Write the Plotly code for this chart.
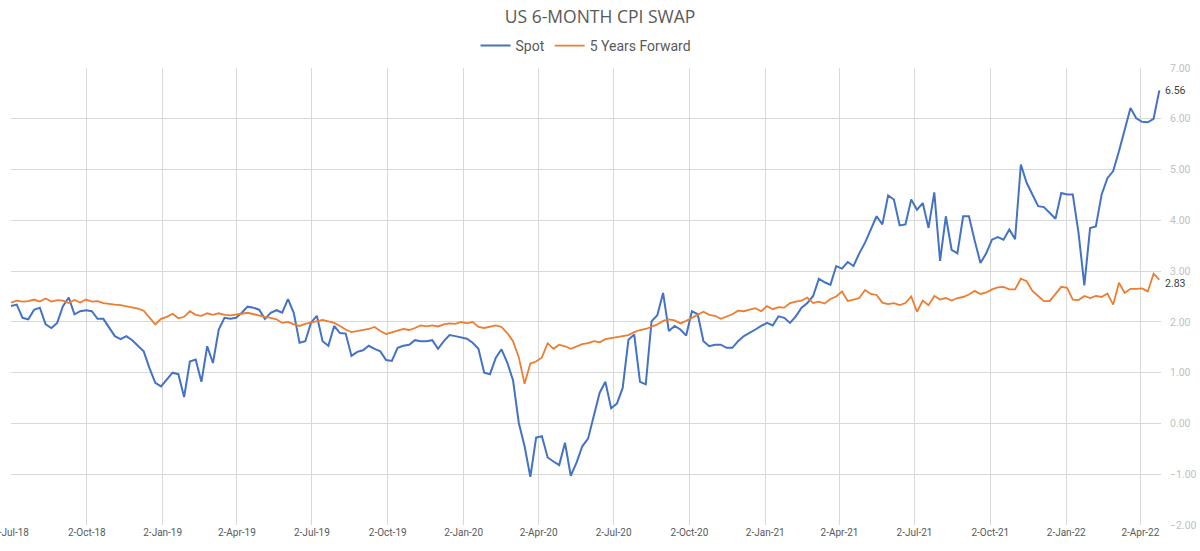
import pandas as pd
import plotly.graph_objects as go

# Weekly observations starting 2 Jul 2018
start_date = "2018-07-02"

spot = [
    2.31, 2.34, 2.08, 2.05, 2.24, 2.28, 1.95, 1.88, 1.98, 2.31,
    2.48, 2.15, 2.21, 2.23, 2.21, 2.06, 2.06, 1.88, 1.72, 1.66,
    1.72, 1.64, 1.52, 1.42, 1.09, 0.80, 0.73, 0.87, 1.00, 0.97,
    0.52, 1.22, 1.26, 0.82, 1.52, 1.19, 1.85, 2.08, 2.06, 2.08,
    2.18, 2.30, 2.28, 2.24, 2.06, 2.18, 2.23, 2.18, 2.45, 2.18,
    1.59, 1.62, 1.99, 2.12, 1.62, 1.53, 1.92, 1.78, 1.77, 1.33,
    1.41, 1.44, 1.53, 1.47, 1.42, 1.25, 1.23, 1.49, 1.53, 1.55,
    1.64, 1.62, 1.62, 1.64, 1.47, 1.62, 1.74, 1.72, 1.70, 1.67,
    1.59, 1.47, 1.00, 0.97, 1.29, 1.46, 1.20, 0.85, 0.01, -0.45,
    -1.05, -0.28, -0.25, -0.67, -0.75, -0.82, -0.38, -1.03, -0.77, -0.45,
    -0.30, 0.15, 0.60, 0.82, 0.30, 0.39, 0.70, 1.65, 1.75, 0.82,
    0.77, 2.01, 2.13, 2.57, 1.82, 1.92, 1.85, 1.73, 2.21, 2.15,
    1.62, 1.52, 1.55, 1.55, 1.49, 1.49, 1.62, 1.72, 1.78, 1.85,
    1.92, 1.98, 1.93, 2.11, 2.08, 1.98, 2.11, 2.28, 2.37, 2.51,
    2.85, 2.78, 2.73, 3.10, 3.05, 3.18, 3.10, 3.35, 3.56, 3.83,
    4.08, 3.92, 4.49, 4.41, 3.90, 3.92, 4.41, 4.21, 4.34, 3.85,
    4.55, 3.20, 4.08, 3.42, 3.35, 4.08, 4.08, 3.60, 3.16, 3.35,
    3.62, 3.67, 3.62, 3.82, 3.63, 5.10, 4.74, 4.51, 4.28, 4.26,
    4.15, 4.03, 4.54, 4.51, 4.51, 3.75, 2.72, 3.85, 3.88, 4.51,
    4.83, 4.97, 5.36, 5.79, 6.21, 6.01, 5.94, 5.93, 6.00, 6.56,
]

fwd5y = [
    2.38, 2.42, 2.40, 2.41, 2.44, 2.40, 2.46, 2.40, 2.43, 2.42,
    2.37, 2.43, 2.38, 2.44, 2.40, 2.41, 2.37, 2.35, 2.34, 2.33,
    2.31, 2.29, 2.26, 2.22, 2.08, 1.95, 2.06, 2.10, 2.16, 2.07,
    2.10, 2.21, 2.14, 2.12, 2.17, 2.14, 2.17, 2.14, 2.13, 2.14,
    2.16, 2.18, 2.15, 2.12, 2.10, 2.08, 2.05, 1.98, 2.00, 1.95,
    1.92, 1.96, 1.99, 2.02, 2.04, 2.01, 1.98, 1.92, 1.85, 1.80,
    1.82, 1.84, 1.86, 1.90, 1.82, 1.76, 1.80, 1.83, 1.86, 1.84,
    1.88, 1.93, 1.91, 1.93, 1.91, 1.95, 1.97, 1.96, 2.00, 1.97,
    2.00, 1.90, 1.88, 1.90, 1.93, 1.90, 1.78, 1.62, 1.30, 0.78,
    1.18, 1.22, 1.30, 1.58, 1.47, 1.55, 1.52, 1.47, 1.51, 1.56,
    1.58, 1.62, 1.60, 1.66, 1.68, 1.70, 1.73, 1.74, 1.80, 1.84,
    1.86, 1.90, 1.95, 2.02, 2.05, 2.03, 1.97, 2.02, 2.08, 2.13,
    2.20, 2.14, 2.12, 2.06, 2.10, 2.15, 2.22, 2.21, 2.24, 2.27,
    2.21, 2.31, 2.25, 2.29, 2.28, 2.37, 2.40, 2.42, 2.48, 2.37,
    2.40, 2.36, 2.45, 2.50, 2.60, 2.41, 2.44, 2.47, 2.63, 2.55,
    2.53, 2.38, 2.35, 2.37, 2.33, 2.37, 2.50, 2.20, 2.42, 2.33,
    2.51, 2.44, 2.47, 2.42, 2.47, 2.49, 2.54, 2.61, 2.55, 2.58,
    2.64, 2.68, 2.69, 2.64, 2.64, 2.85, 2.80, 2.61, 2.51, 2.41,
    2.41, 2.56, 2.69, 2.67, 2.44, 2.43, 2.51, 2.47, 2.51, 2.49,
    2.56, 2.34, 2.77, 2.57, 2.65, 2.65, 2.66, 2.60, 2.95, 2.83,
]

tick_dates = [
    "2018-07-02", "2018-10-02", "2019-01-02", "2019-04-02", "2019-07-02",
    "2019-10-02", "2020-01-02", "2020-04-02", "2020-07-02", "2020-10-02",
    "2021-01-02", "2021-04-02", "2021-07-02", "2021-10-02", "2022-01-02",
    "2022-04-02",
]
tick_labels = [
    "2-Jul-18", "2-Oct-18", "2-Jan-19", "2-Apr-19", "2-Jul-19",
    "2-Oct-19", "2-Jan-20", "2-Apr-20", "2-Jul-20", "2-Oct-20",
    "2-Jan-21", "2-Apr-21", "2-Jul-21", "2-Oct-21", "2-Jan-22",
    "2-Apr-22",
]

dates = pd.date_range(start_date, periods=len(spot), freq="7D")

BLUE = "#4472C4"
ORANGE = "#ED7D31"
FONT = "Roboto"

fig = go.Figure()
fig.add_trace(go.Scatter(x=dates, y=spot, mode="lines", name="Spot",
                         line=dict(color=BLUE, width=2)))
fig.add_trace(go.Scatter(x=dates, y=fwd5y, mode="lines", name="5 Years Forward",
                         line=dict(color=ORANGE, width=1.8)))

for series, dy in ((spot, 0), (fwd5y, -4)):
    fig.add_annotation(x=dates[-1], y=series[-1], text=f"{series[-1]:.2f}",
                       showarrow=False, xanchor="left", yanchor="middle",
                       xshift=4, yshift=dy,
                       font=dict(family=FONT, size=10.5, color="#404040"))

fig.update_layout(
    width=1200, height=551,
    margin=dict(l=11, r=39, t=68, b=26, autoexpand=False),
    paper_bgcolor="white", plot_bgcolor="white",
    title=dict(text="US 6-MONTH CPI SWAP", x=0.5, xanchor="center",
               y=1 - 17 / 551, yanchor="middle", yref="container",
               font=dict(family="Open Sans", size=17.5, color="#595959")),
    legend=dict(orientation="h", x=0.5, xanchor="center",
                y=1 - 46 / 551, yanchor="middle", yref="container",
                font=dict(family=FONT, size=14, color="#595959"),
                itemwidth=30, bgcolor="rgba(0,0,0,0)"),
    xaxis=dict(range=["2018-07-02", "2022-04-27"], tickvals=tick_dates,
               ticktext=tick_labels, showgrid=True, gridcolor="#D9D9D9",
               gridwidth=1, zeroline=False, showline=False, ticks="",
               automargin=False, ticklabeloverflow="allow",
               tickfont=dict(family=FONT, size=10, color="#595959")),
    yaxis=dict(side="right", range=[-2, 7], dtick=1, tick0=0, tickformat=".2f",
               showgrid=True, gridcolor="#D9D9D9", gridwidth=1, zeroline=False,
               showline=False, ticks="", ticklabelstandoff=8, automargin=False,
               tickfont=dict(family=FONT, size=10.5, color="#BFBFBF")),
    hovermode=False,
)

fig.write_html("out.html")
